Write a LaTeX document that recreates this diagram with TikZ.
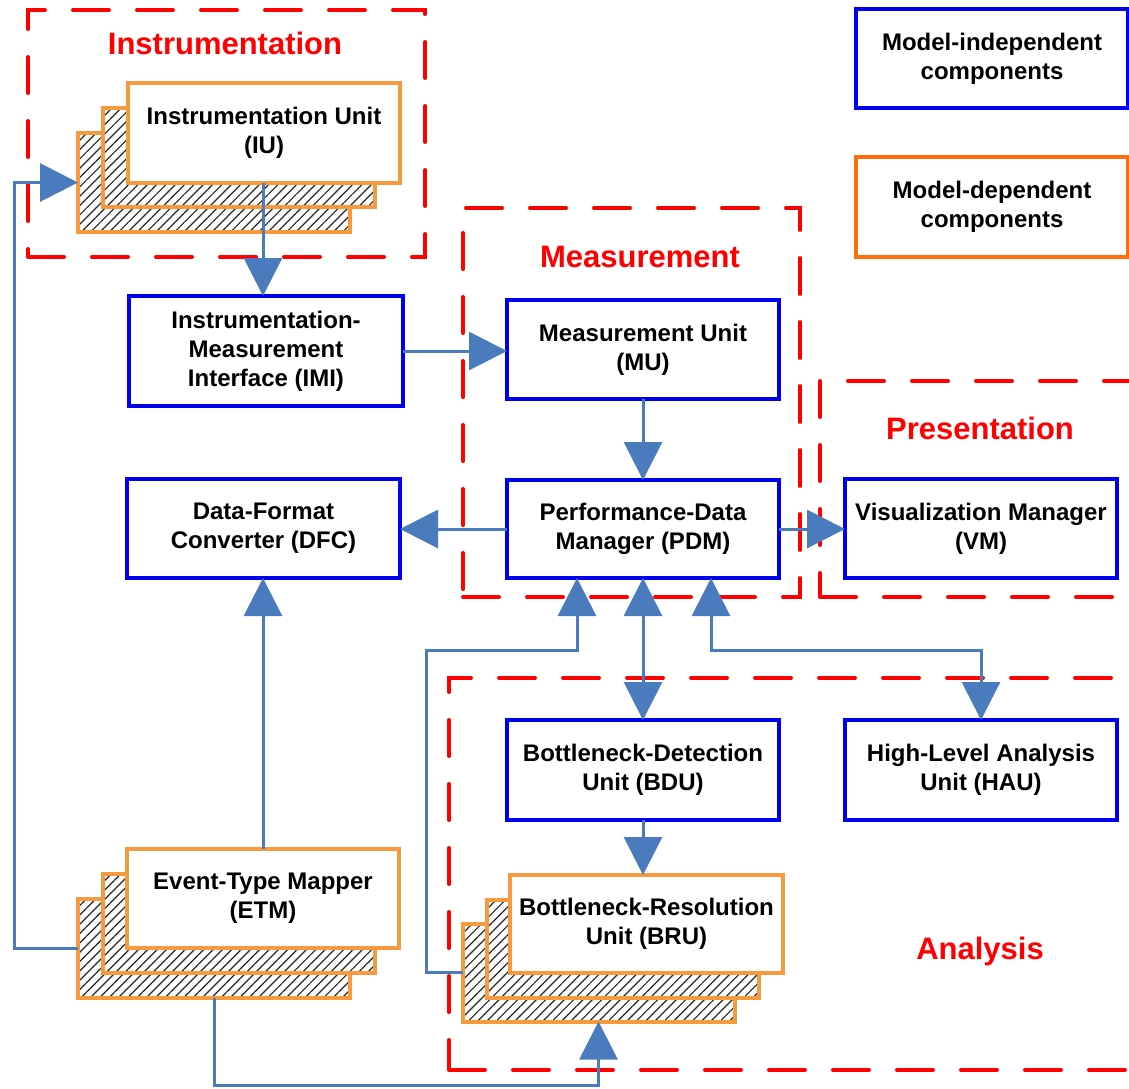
\documentclass[tikz,border=0pt]{standalone}
\usepackage{fontspec}
\setmainfont{Liberation Sans}
\usetikzlibrary{arrows.meta,patterns.meta,calc}

\definecolor{unitblue}{HTML}{0000F0}
\definecolor{stackorange}{HTML}{F79A3E}
\definecolor{legendorange}{HTML}{FF6D0D}
\definecolor{linkblue}{HTML}{4A7BBD}
\definecolor{groupred}{HTML}{FF0000}

\newcommand\boxfont{\fontsize{24pt}{29pt}\selectfont\bfseries}
\newcommand\groupfont{\fontsize{31pt}{37pt}\selectfont\bfseries}

\begin{document}
\begin{tikzpicture}[x=1pt,y=-1pt,
  unit/.style={draw=unitblue, line width=4pt, fill=white,
    minimum width=272pt, minimum height=99pt, inner sep=0pt, outer sep=0pt,
    align=center, font=\boxfont},
  depunit/.style={unit, draw=stackorange},
  hatchbox/.style={draw=stackorange, line width=4pt,
    minimum width=272pt, minimum height=99pt, inner sep=0pt, outer sep=0pt,
    preaction={fill=white},
    preaction={pattern={Lines[angle=45,distance=6.6pt,line width=1.2pt]},
      pattern color=black!85}},
  group/.style={draw=groupred, line width=4pt, dash pattern=on 36pt off 28pt,
    line cap=round, inner sep=0pt, outer sep=0pt},
  grouptitle/.style={text=groupred, font=\groupfont, anchor=base, inner sep=0pt},
  conn/.style={draw=linkblue, line width=3pt},
  arr/.style={conn, -{Triangle[length=38pt,width=38pt]}},
  darr/.style={conn, {Triangle[length=38pt,width=38pt]}-{Triangle[length=38pt,width=38pt]}}]

\useasboundingbox (0,0) rectangle (1129,1088);
\clip (0,0) rectangle (1129,1088);

% ---- dashed group frames ----
\node[group, minimum width=397pt, minimum height=247pt] (grpInstr) at (226.5,133.5) {};
\node[group, minimum width=337pt, minimum height=389pt] (grpMeas) at (631.5,402.5) {};
\node[group, minimum width=340pt, minimum height=216pt] (grpPres) at (990,489) {};
\node[group, minimum width=711pt, minimum height=392pt] (grpAna) at (804.5,874) {};

\node[grouptitle] (tInstr) at (225,54) {Instrumentation};
\node[grouptitle] (tMeas) at (640,267) {Measurement};
\node[grouptitle] (tPres) at (980,439) {Presentation};
\node[grouptitle] (tAna) at (980,959) {Analysis};

% ---- legend ----
\node[unit, minimum width=272pt, minimum height=99pt] (legInd) at (992,58.5) {Model-independent\\components};
\node[unit, draw=legendorange, minimum height=100pt] (legDep) at (992,207) {Model-dependent\\components};

% ---- instrumentation unit stack ----
\node[hatchbox] (iu3) at (214,182.5) {};
\node[hatchbox] (iu2) at (239,157.5) {};
\node[depunit, minimum height=100pt] (iu) at (264,133) {Instrumentation Unit\\(IU)};

% ---- model-independent units ----
\node[unit, minimum width=274pt, minimum height=110pt] (imi) at (266,351) {Instrumentation-\\Measurement\\Interface (IMI)};
\node[unit] (mu) at (643,349.5) {Measurement Unit\\(MU)};
\node[unit, minimum height=98pt] (pdm) at (643,529) {Performance-Data\\Manager (PDM)};
\node[unit, minimum width=273pt] (dfc) at (263.5,528.5) {Data-Format\\Converter (DFC)};
\node[unit] (vm) at (981,528.5) {Visualization Manager\\(VM)};
\node[unit, minimum height=100pt] (bdu) at (643,770) {Bottleneck-Detection\\Unit (BDU)};
\node[unit, minimum height=100pt] (hau) at (981,770) {High-Level Analysis\\Unit (HAU)};

% ---- bottleneck-resolution unit stack ----
\node[hatchbox, minimum height=98pt] (bru3) at (598.5,972.5) {};
\node[hatchbox, minimum height=98pt] (bru2) at (622.5,948.5) {};
\node[depunit, minimum width=273pt, minimum height=98pt] (bru) at (646.5,924) {Bottleneck-Resolution\\Unit (BRU)};

% ---- event-type mapper stack ----
\node[hatchbox] (etm3) at (214,948.5) {};
\node[hatchbox] (etm2) at (238.5,923.5) {};
\node[depunit] (etm) at (263,898.5) {Event-Type Mapper\\(ETM)};

% ---- routing helpers ----
\coordinate (leftRail) at (14,0);
\coordinate (bottomRow) at (0,1085);
\coordinate (loopRail) at (426,0);
\coordinate (splitRow) at (0,650);
\coordinate (pdmA) at ([xshift=70pt]pdm.south west);
\coordinate (pdmC) at ([xshift=-68pt]pdm.south east);

% ---- connectors ----
\draw[arr] (iu.south -| 263,0) -- (imi.north -| 263,0);
\draw[arr] (imi.east) -- (imi.east -| mu.west);
\draw[arr] (mu.south) -- (pdm.north);
\draw[arr] (pdm.west) -- (pdm.west -| dfc.east);
\draw[arr] (pdm.east) -- (pdm.east -| vm.west);
\draw[darr] (pdm.south) -- (bdu.north);
\draw[arr] (bdu.south) -- (bdu.south |- bru.north);
\draw[darr] (pdmC) -- (pdmC |- splitRow) -| (hau.north);
\draw[arr] (bru3.west) -- (bru3.west -| loopRail) -- (loopRail |- splitRow)
  -- (pdmA |- splitRow) -- (pdmA);
\draw[arr] (etm3.west) -- (etm3.west -| leftRail) -- (leftRail |- iu3.west) -- (iu3.west);
\draw[arr] (etm.north) -- (etm.north |- dfc.south);
\draw[arr] (etm3.south) -- (etm3.south |- bottomRow) -| (bru3.south);

\end{tikzpicture}
\end{document}
